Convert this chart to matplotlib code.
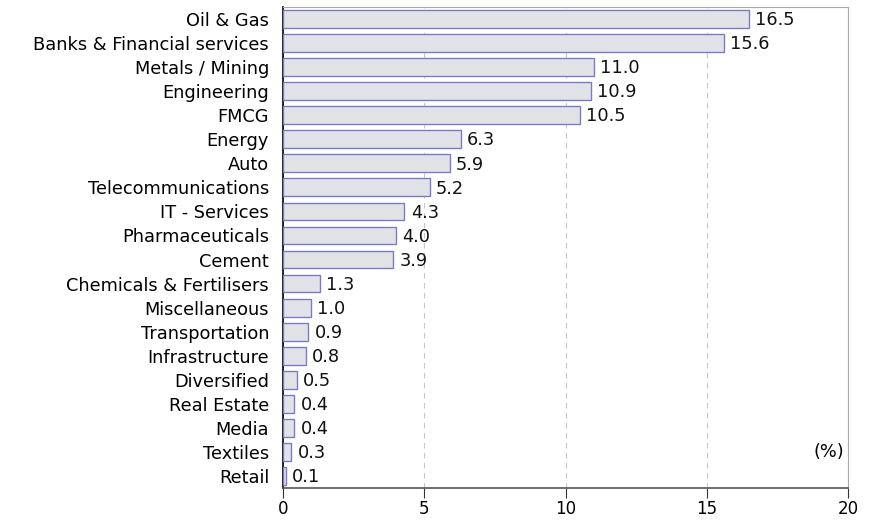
import numpy as np
import matplotlib
matplotlib.use("Agg")
import matplotlib.pyplot as plt

# Sector weights (%)
sectors = ['Oil & Gas', 'Banks & Financial services', 'Metals / Mining', 'Engineering', 'FMCG',
           'Energy', 'Auto', 'Telecommunications', 'IT - Services', 'Pharmaceuticals', 'Cement',
           'Chemicals & Fertilisers', 'Miscellaneous', 'Transportation', 'Infrastructure',
           'Diversified', 'Real Estate', 'Media', 'Textiles', 'Retail']
weights = [16.5, 15.6, 11.0, 10.9, 10.5, 6.3, 5.9, 5.2, 4.3, 4.0, 3.9,
           1.3, 1.0, 0.9, 0.8, 0.5, 0.4, 0.4, 0.3, 0.1]
x_ticks = [0, 5, 10, 15, 20]

plt.rcParams['font.family'] = ['DejaVu Sans']
fs = 12.8

fig = plt.figure(figsize=(8.7, 5.2), dpi=100)
ax = fig.add_axes([283/870, 1 - 488/520, (848 - 283)/870, (488 - 7)/520])

y = np.arange(len(sectors))
ax.barh(y, weights, height=0.74, color='#e1e3e8', edgecolor='#7b7bc4', linewidth=1.0, zorder=3)

for yi, v in zip(y, weights):
    ax.text(v + 0.22, yi + 0.05, '%.1f' % v, va='center', ha='left', fontsize=fs, color='#111111', zorder=4)

ax.set_ylim(len(sectors) - 0.5, -0.5)
ax.set_xlim(0, 20)
ax.set_yticks(y)
ax.set_yticklabels(sectors, fontsize=fs)
ax.set_xticks(x_ticks)
ax.set_xticklabels([str(t) for t in x_ticks], fontsize=12)

ax.tick_params(axis='y', length=0, pad=10)
ax.tick_params(axis='x', length=7, direction='out', pad=2, color='#333333')

ax.grid(axis='x', linestyle=(0, (5, 4)), color='#c8c8c8', linewidth=0.8, zorder=0)

ax.spines['left'].set_color('#000000')
ax.spines['left'].set_linewidth(1.2)
ax.spines['bottom'].set_color('#555555')
ax.spines['bottom'].set_linewidth(1.2)
ax.spines['top'].set_color('#aaaaaa')
ax.spines['right'].set_color('#aaaaaa')

ax.text(19.85, 18, '(%)', ha='right', va='center', fontsize=fs)

plt.savefig('out.png', dpi=100)
